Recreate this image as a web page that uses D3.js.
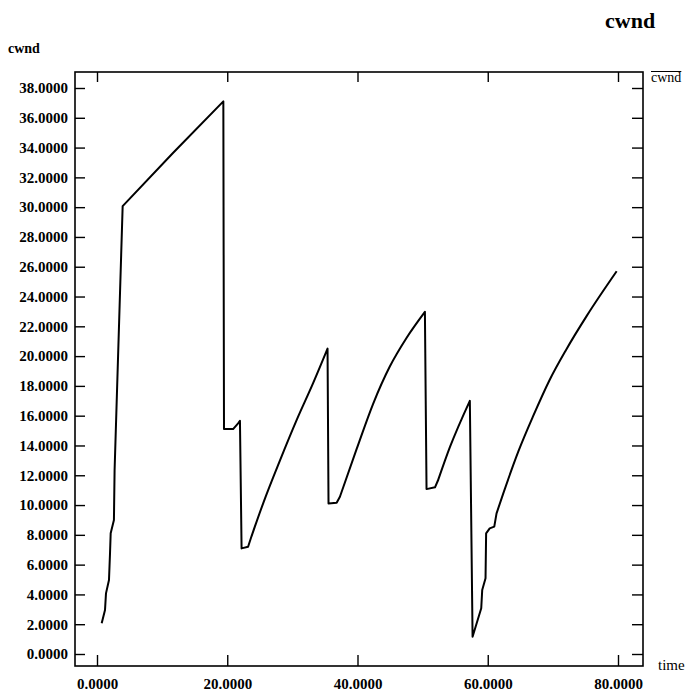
<!DOCTYPE html>
<html><head><meta charset="utf-8">
<script src="https://cdn.jsdelivr.net/npm/d3@7"></script>
<style>
html,body{margin:0;padding:0;background:#fff;}
text{font-family:"Liberation Serif","Times New Roman",serif;fill:#000;}
</style></head>
<body>
<svg id="chart" width="685" height="691"></svg>
<script>
// Data
const timeValues = [0.72,1.23,1.38,1.84,2.0,2.1,2.6,2.7,3.94,11.7,19.4,
  19.5,20.9,21.7,21.95,22.2,23.2,23.7,25.5,28.1,30.65,33.2,35.4,
  35.55,36.8,37.3,39.9,42.4,44.96,47.5,50.35,
  50.6,51.9,52.4,54.2,57.25,
  57.67,59.0,59.15,59.66,59.75,60.3,61.0,61.35,62.4,64.7,67.0,69.5,72.0,75.2,79.8];
const cwndValues = [2.06,2.95,4.07,4.97,6.78,8.1,9.0,12.3,30.07,33.65,37.1,
  15.1,15.1,15.5,15.66,7.09,7.2,7.87,10.1,13.0,15.7,18.2,20.5,
  10.1,10.15,10.56,13.8,16.8,19.3,21.2,22.97,
  11.07,11.19,11.7,13.9,17.0,
  1.16,3.07,4.3,5.08,8.1,8.43,8.55,9.44,10.8,13.6,16.0,18.4,20.4,22.7,25.7];
const xTicks = [0,20,40,60,80];
const yTicks = [0,2,4,6,8,10,12,14,16,18,20,22,24,26,28,30,32,34,36,38];
const titleText = "cwnd";
const yLabel = "cwnd";
const xLabel = "time";
const legendText = "cwnd";
// time ranges drawn as smooth curves (congestion-avoidance growth)
const smoothRanges = [[23.7,35.4],[37.3,50.35],[52.4,57.25],[61.35,79.8]];

const svg = d3.select("#chart");
const frame = {left:75, right:643, top:72, bottom:666};
const x = d3.scaleLinear().domain([0,80]).range([97,618]);
const y = d3.scaleLinear().domain([0,38]).range([654,88]);
const fmt = d3.format(".4f");

// frame
svg.append("rect").attr("x",frame.left).attr("y",frame.top)
  .attr("width",frame.right-frame.left).attr("height",frame.bottom-frame.top)
  .attr("fill","none").attr("stroke","#000").attr("stroke-width",1.6);

function styleAxis(g){
  g.select(".domain").remove();
  g.selectAll(".tick line").attr("stroke","#000").attr("stroke-width",1.4);
  g.selectAll(".tick text").attr("font-family","Liberation Serif, serif")
    .attr("font-weight","bold").attr("font-size",15).attr("fill","#000");
}

svg.append("g").attr("transform",`translate(${frame.left},0)`)
  .call(d3.axisLeft(y).tickValues(yTicks).tickFormat(fmt).tickSizeInner(-10).tickSizeOuter(0).tickPadding(7))
  .call(styleAxis);
svg.append("g").attr("transform",`translate(${frame.right},0)`)
  .call(d3.axisRight(y).tickValues(yTicks).tickFormat("").tickSizeInner(-11).tickSizeOuter(0))
  .call(styleAxis);
svg.append("g").attr("transform",`translate(0,${frame.bottom})`)
  .call(d3.axisBottom(x).tickValues(xTicks).tickFormat(fmt).tickSizeInner(-11).tickSizeOuter(0).tickPadding(12.5))
  .call(styleAxis);
svg.append("g").attr("transform",`translate(0,${frame.top})`)
  .call(d3.axisTop(x).tickValues(xTicks).tickFormat("").tickSizeInner(-10).tickSizeOuter(0))
  .call(styleAxis);

// curve: linear pieces joined with smooth (monotone) pieces
const pts = timeValues.map((t,i)=>[t,cwndValues[i]]);
const lineLin = d3.line().x(d=>x(d[0])).y(d=>y(d[1]));
const lineSm = d3.line().x(d=>x(d[0])).y(d=>y(d[1])).curve(d3.curveMonotoneX);
const parts = [];
let idx = 0;
for (const [a,b] of smoothRanges){
  const ia = pts.findIndex(p=>p[0]===a), ib = pts.findIndex(p=>p[0]===b);
  parts.push(lineLin(pts.slice(idx, ia+1)));
  parts.push(lineSm(pts.slice(ia, ib+1)));
  idx = ib;
}
if (idx < pts.length-1) parts.push(lineLin(pts.slice(idx)));
const dStr = parts.map((s,k)=> (k===0 ? s : s.replace(/^M/,"L")).replace(/Z$/,"")).join("");
svg.append("path").attr("d", dStr)
  .attr("fill","none").attr("stroke","#000").attr("stroke-width",2)
  .attr("stroke-linejoin","round");

// labels
svg.append("text").attr("x",605).attr("y",28)
  .attr("font-weight","bold").attr("font-size",22).text(titleText);
svg.append("text").attr("x",8).attr("y",53)
  .attr("font-weight","bold").attr("font-size",14).text(yLabel);
svg.append("text").attr("x",658).attr("y",670)
  .attr("font-size",15).text(xLabel);
const lg = svg.append("text").attr("x",651).attr("y",82)
  .attr("font-size",14).text(legendText);
const bb = lg.node().getBBox();
svg.append("line").attr("x1",bb.x).attr("x2",bb.x+bb.width)
  .attr("y1",71.5).attr("y2",71.5).attr("stroke","#000").attr("stroke-width",1);
</script>
</body></html>
